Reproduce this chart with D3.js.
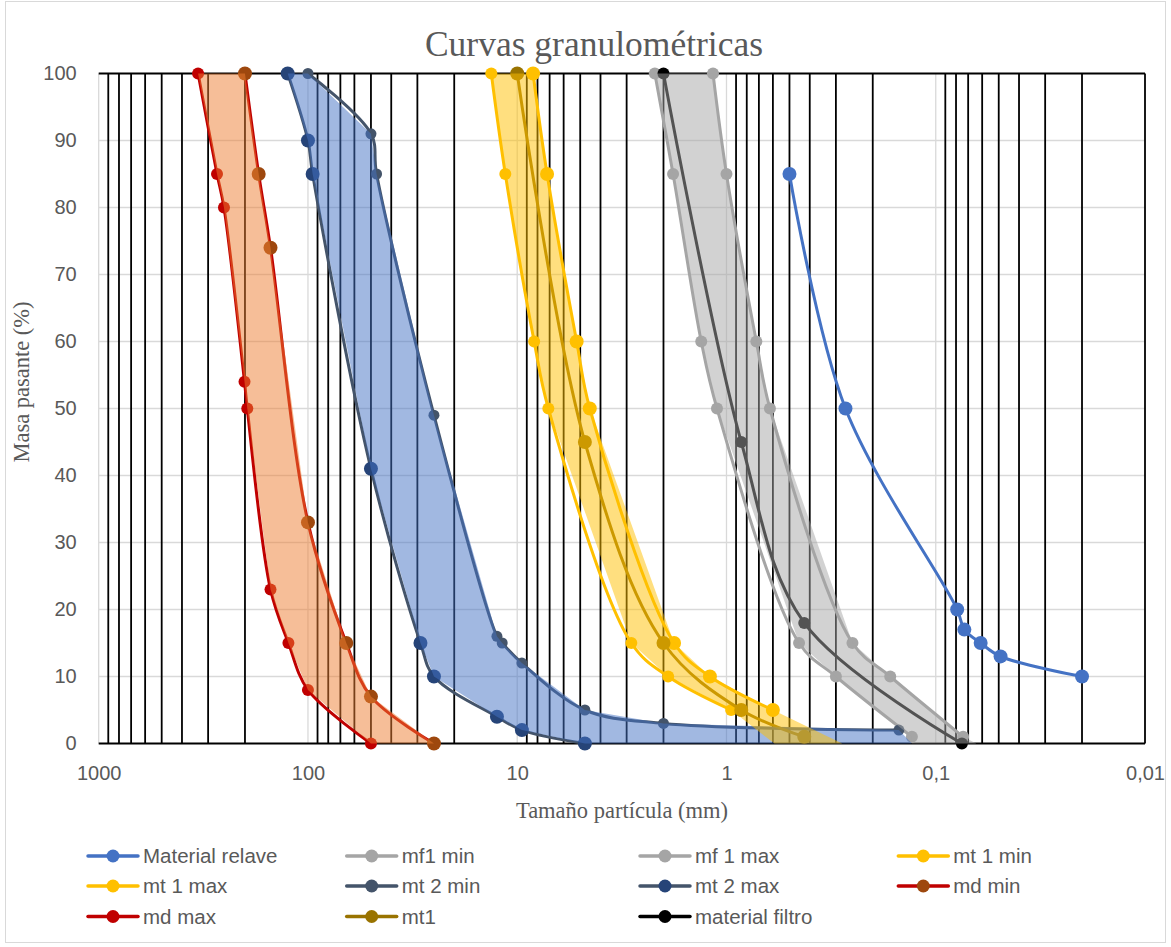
<!DOCTYPE html>
<html><head><meta charset="utf-8">
<script src="https://cdn.jsdelivr.net/npm/d3@7"></script>
<style>body{margin:0;background:#fff}</style>
</head><body><svg id="c" width="1171" height="947"></svg>
<script>
// ---- data: [size mm, % passing] ----
const materialRelave = [[0.5,85],[0.27,50],[0.079,20],[0.073,17],[0.061,15],[0.049,13],[0.02,10]];
const mf1Min = [[2.2,100],[1.8,85],[1.32,60],[1.11,50],[0.45,15],[0.3,10],[0.13,1]];
const mf1Max = [[1.16,100],[1.0,85],[0.72,60],[0.62,50],[0.25,15],[0.165,10],[0.074,1]];
const mt1Min = [[13.3,100],[11.4,85],[8.3,60],[7.1,50],[2.85,15],[1.9,10],[0.95,5]];
const mt1Max = [[8.4,100],[7.2,85],[5.2,60],[4.5,50],[1.78,15],[1.2,10],[0.6,5]];
const mt2Min = [[100,100],[50,91],[47,85],[25,49],[12.5,16],[11.8,15],[9.5,12],[4.75,5],[2,3],[0.15,2]];
const mt2Max = [[125,100],[100,90],[95,85],[50,41],[29,15],[25,10],[12.5,4],[9.5,2],[4.75,0]];
const mdMin = [[200,100],[172,85],[151,74],[100,33],[65.6,15],[50,7],[25,0]];
const mdMax = [[335,100],[272,85],[252,80],[201,54],[195,50],[151,23],[124,15],[100,8],[50,0]];
const mt1 = [[10,100],[4.75,45],[2,15],[0.85,5],[0.425,1]];
const materialFiltro = [[2,100],[0.85,45],[0.425,18],[0.075,0]];

// band closures at the baseline (where the shaded bands run down to 0 %)
const mt2BandTail = [[0.13,0]];
const mt1BandTail = [[0.59,0],[0.28,0]];
const mf1BandTail = [[0.13,0],[0.064,0]];

// sieve lines (black verticals)
const sieveLines = [900,800,700,600,500,400,300,200,
  90,80,70,60,50,40,30,20,
  9,8,7,6,5,4,3,2,
  0.9,0.8,0.7,0.6,0.5,0.4,0.3,0.2,
  0.09,0.08,0.07,0.06,0.05,0.04,0.03,0.02,0.01];
const xTickValues = [1000,100,10,1,0.1,0.01];
const xTickLabels = ["1000","100","10","1","0,1","0,01"];
const yTickValues = [0,10,20,30,40,50,60,70,80,90,100];
const decadeLines = [1000,100,10,1,0.1];

const titleText = "Curvas granulométricas";
const xTitle = "Tamaño partícula (mm)";
const yTitle = "Masa pasante (%)";

// ---- series definitions ----
const series = [
  {name:"Material relave", data:materialRelave, line:"#4472C4", marker:"#4472C4", r:7},
  {name:"mf1 min", data:mf1Min, line:"#A5A5A5", marker:"#A5A5A5", r:6},
  {name:"mf 1 max", data:mf1Max, line:"#A5A5A5", marker:"#A5A5A5", r:6},
  {name:"mt 1 min", data:mt1Min, line:"#FFC000", marker:"#FFC000", r:6},
  {name:"mt 1 max", data:mt1Max, line:"#FFC000", marker:"#FFC000", r:7},
  {name:"mt 2 min", data:mt2Min, line:"#44546A", marker:"#44546A", r:5.5},
  {name:"mt 2 max", data:mt2Max, line:"#44546A", marker:"#264478", r:7},
  {name:"md min", data:mdMin, line:"#C00000", marker:"#9E480E", r:7},
  {name:"md max", data:mdMax, line:"#C00000", marker:"#C00000", r:6},
  {name:"mt1", data:mt1, line:"#997300", marker:"#997300", r:7},
  {name:"material filtro", data:materialFiltro, line:"#000000", marker:"#000000", r:6}
];

const bands = [
  {first:mdMax, tail:[], second:mdMin, color:"#ED7D31"},
  {first:mt2Max, tail:mt2BandTail, second:mt2Min, color:"#4472C4"},
  {first:mt1Min, tail:mt1BandTail, second:mt1Max, color:"#FFC000"},
  {first:mf1Min, tail:mf1BandTail, second:mf1Max, color:"#A5A5A5"}
];

// ---- layout ----
const svg = d3.select("#c");
const L = 98.7, R = 1145, T = 73.5, B = 743.5;
const x = d3.scaleLog().domain([1000,0.01]).range([L,R]);
const y = d3.scaleLinear().domain([0,100]).range([B,T]);
const textCol = "#595959";

svg.append("rect").attr("x",5.5).attr("y",1.5).attr("width",1160).attr("height",941)
  .attr("fill","#fff").attr("stroke","#D9D9D9");

// gridlines
const g = svg.append("g");
g.selectAll(".hg").data(yTickValues.filter(v=>v>0 && v<100)).enter().append("line")
  .attr("x1",L).attr("x2",R).attr("y1",d=>y(d)).attr("y2",d=>y(d))
  .attr("stroke","#D9D9D9").attr("stroke-width",1.3);
g.selectAll(".vg").data(decadeLines).enter().append("line")
  .attr("x1",d=>x(d)).attr("x2",d=>x(d)).attr("y1",T).attr("y2",B)
  .attr("stroke","#D9D9D9").attr("stroke-width",1.3);

// black sieve lines
g.selectAll(".sv").data(sieveLines).enter().append("line")
  .attr("x1",d=>x(d)).attr("x2",d=>x(d)).attr("y1",T).attr("y2",B)
  .attr("stroke","#000").attr("stroke-width",1.8);
[100,0].forEach(v=>{
  g.append("line").attr("x1",L).attr("x2",R).attr("y1",y(v)).attr("y2",y(v))
   .attr("stroke","#000").attr("stroke-width",1.8);
});

// axes
const xAxis = d3.axisBottom(x).tickValues(xTickValues)
  .tickFormat((d,i)=>xTickLabels[i]).tickSize(0).tickPadding(22);
const xa = svg.append("g").attr("transform",`translate(0,${B})`).call(xAxis);
xa.select(".domain").remove();
xa.selectAll("text").attr("font-family","Liberation Sans, Arial, sans-serif")
  .attr("font-size",20).attr("fill",textCol);

const yAxis = d3.axisLeft(y).tickValues(yTickValues).tickSize(0).tickPadding(22);
const ya = svg.append("g").attr("transform",`translate(${L},0)`).call(yAxis);
ya.select(".domain").remove();
ya.selectAll("text").attr("font-family","Liberation Sans, Arial, sans-serif")
  .attr("font-size",20).attr("fill",textCol);

// series
const lineGen = d3.line().x(d=>x(d[0])).y(d=>y(d[1])).curve(d3.curveCatmullRom.alpha(0.5));
series.forEach(s=>{
  svg.append("path").attr("d",lineGen(s.data)).attr("fill","none")
    .attr("stroke",s.line).attr("stroke-width",3).attr("stroke-linejoin","round").attr("stroke-linecap","round");
  svg.append("g").selectAll("circle").data(s.data).enter().append("circle")
    .attr("cx",d=>x(d[0])).attr("cy",d=>y(d[1])).attr("r",s.r).attr("fill",s.marker);
});

// shaded bands (on top, semi-transparent, straight edges)
const polyGen = d3.line().x(d=>x(d[0])).y(d=>y(d[1]));
bands.forEach(b=>{
  const pts = b.first.concat(b.tail, b.second.slice().reverse());
  svg.append("path").attr("d",polyGen(pts)+"Z").attr("fill",b.color).attr("fill-opacity",0.5);
});

// titles
svg.append("text").attr("x",594).attr("y",56).attr("text-anchor","middle")
  .attr("font-family","Liberation Serif, Times New Roman, serif").attr("font-size",35.5)
  .attr("fill",textCol).text(titleText);
svg.append("text").attr("x",622).attr("y",818).attr("text-anchor","middle")
  .attr("font-family","Liberation Serif, Times New Roman, serif").attr("font-size",22.5)
  .attr("fill",textCol).text(xTitle);
svg.append("text").attr("transform","translate(29,382) rotate(-90)").attr("text-anchor","middle")
  .attr("font-family","Liberation Serif, Times New Roman, serif").attr("font-size",22.5)
  .attr("fill",textCol).text(yTitle);

// legend
const colX = [88, 346.7, 640, 898.3];
const rowY = [856, 886, 916.5];
series.forEach((s,i)=>{
  const cx = colX[i%4], cy = rowY[Math.floor(i/4)];
  const lg = svg.append("g");
  lg.append("line").attr("x1",cx).attr("x2",cx+50).attr("y1",cy).attr("y2",cy)
    .attr("stroke",s.line).attr("stroke-width",3.5).attr("stroke-linecap","round");
  lg.append("circle").attr("cx",cx+25).attr("cy",cy).attr("r",6.5).attr("fill",s.marker);
  lg.append("text").attr("x",cx+55).attr("y",cy+7).attr("font-family","Liberation Sans, Arial, sans-serif")
    .attr("font-size",20.5).attr("fill",textCol).text(s.name);
});
</script></body></html>
